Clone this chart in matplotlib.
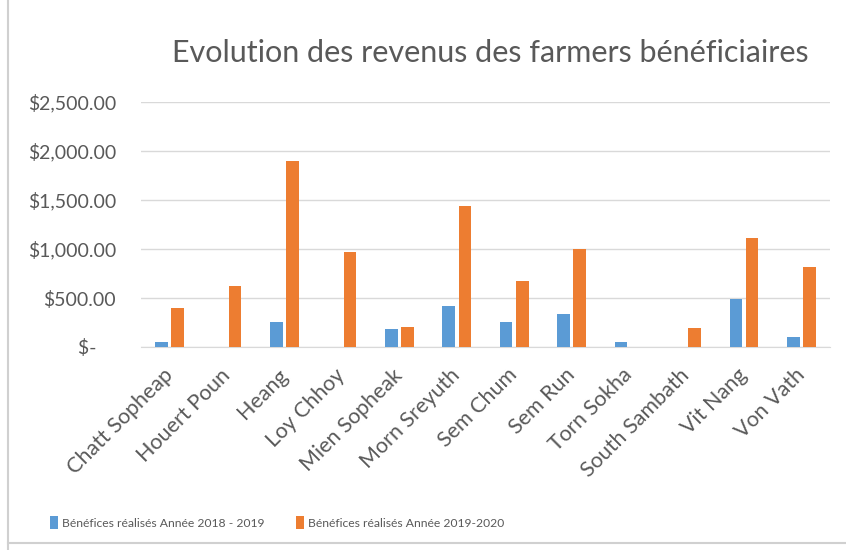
import matplotlib
matplotlib.use("Agg")
import matplotlib.pyplot as plt
import numpy as np
from matplotlib.lines import Line2D

plt.rcParams['font.family'] = ['Lato', 'DejaVu Sans']

categories = ["Chatt Sopheap", "Houert Poun", "Heang", "Loy Chhoy", "Mien Sopheak",
              "Morn Sreyuth", "Sem Chum", "Sem Run", "Torn Sokha", "South Sambath",
              "Vit Nang", "Von Vath"]
benef_2018_2019 = [55, 0, 258, 0, 180, 418, 258, 334, 55, 0, 487, 99]
benef_2019_2020 = [395, 625, 1900, 972, 207, 1439, 673, 997, 0, 197, 1115, 813]
series_names = ["Bénéfices réalisés Année 2018 - 2019", "Bénéfices réalisés Année 2019-2020"]
yticks = [0, 500, 1000, 1500, 2000, 2500]
ytick_labels = ["$-    ", "$500.00", "$1,000.00", "$1,500.00", "$2,000.00", "$2,500.00"]
title = "Evolution des revenus des farmers bénéficiaires"

blue = "#5B9BD5"
orange = "#ED7D31"
gray = "#595959"

fig = plt.figure(figsize=(8.46, 5.5), dpi=100)
ax = fig.add_axes([141/846, 1 - 347/550, (830 - 141)/846, (347 - 102)/550])

x = np.arange(len(categories))
w = 0.22
gap = 0.06
ax.bar(x - w/2 - gap/2, benef_2018_2019, width=w, color=blue, label=series_names[0], zorder=3)
ax.bar(x + w/2 + gap/2, benef_2019_2020, width=w, color=orange, label=series_names[1], zorder=3)

ax.set_xlim(-0.5, len(categories) - 0.5)
ax.set_ylim(0, 2500)
ax.set_yticks(yticks)
ax.set_yticklabels(ytick_labels, color=gray, fontsize=14)
ax.set_xticks(x)
ax.set_xticklabels(categories, rotation=45, ha="right", va="center", rotation_mode="anchor",
                   color=gray, fontsize=15.5)
ax.tick_params(axis="both", length=0)
ax.tick_params(axis="y", pad=18)
ax.tick_params(axis="x", pad=18)
ax.grid(axis="y", color="#d9d9d9", linewidth=1, zorder=0)
for s in ["top", "right", "left"]:
    ax.spines[s].set_visible(False)
ax.spines["bottom"].set_color("#d9d9d9")

fig.text(0.579, 0.903, title, ha="center", va="center", fontsize=22, color=gray)

leg = fig.legend(loc="center left", bbox_to_anchor=(0.046, 0.05), ncol=2, frameon=False,
                 fontsize=8.7, labelcolor=gray, handlelength=0.7, handleheight=1.2,
                 handletextpad=0.3, columnspacing=2.6)

fig.add_artist(Line2D([0.01, 0.01], [0.0, 1.0], transform=fig.transFigure, color="#d0d0d0", lw=1.5))
fig.add_artist(Line2D([0.01, 1.0], [0.012, 0.012], transform=fig.transFigure, color="#d0d0d0", lw=1.5))

fig.savefig("out.png", dpi=100)
